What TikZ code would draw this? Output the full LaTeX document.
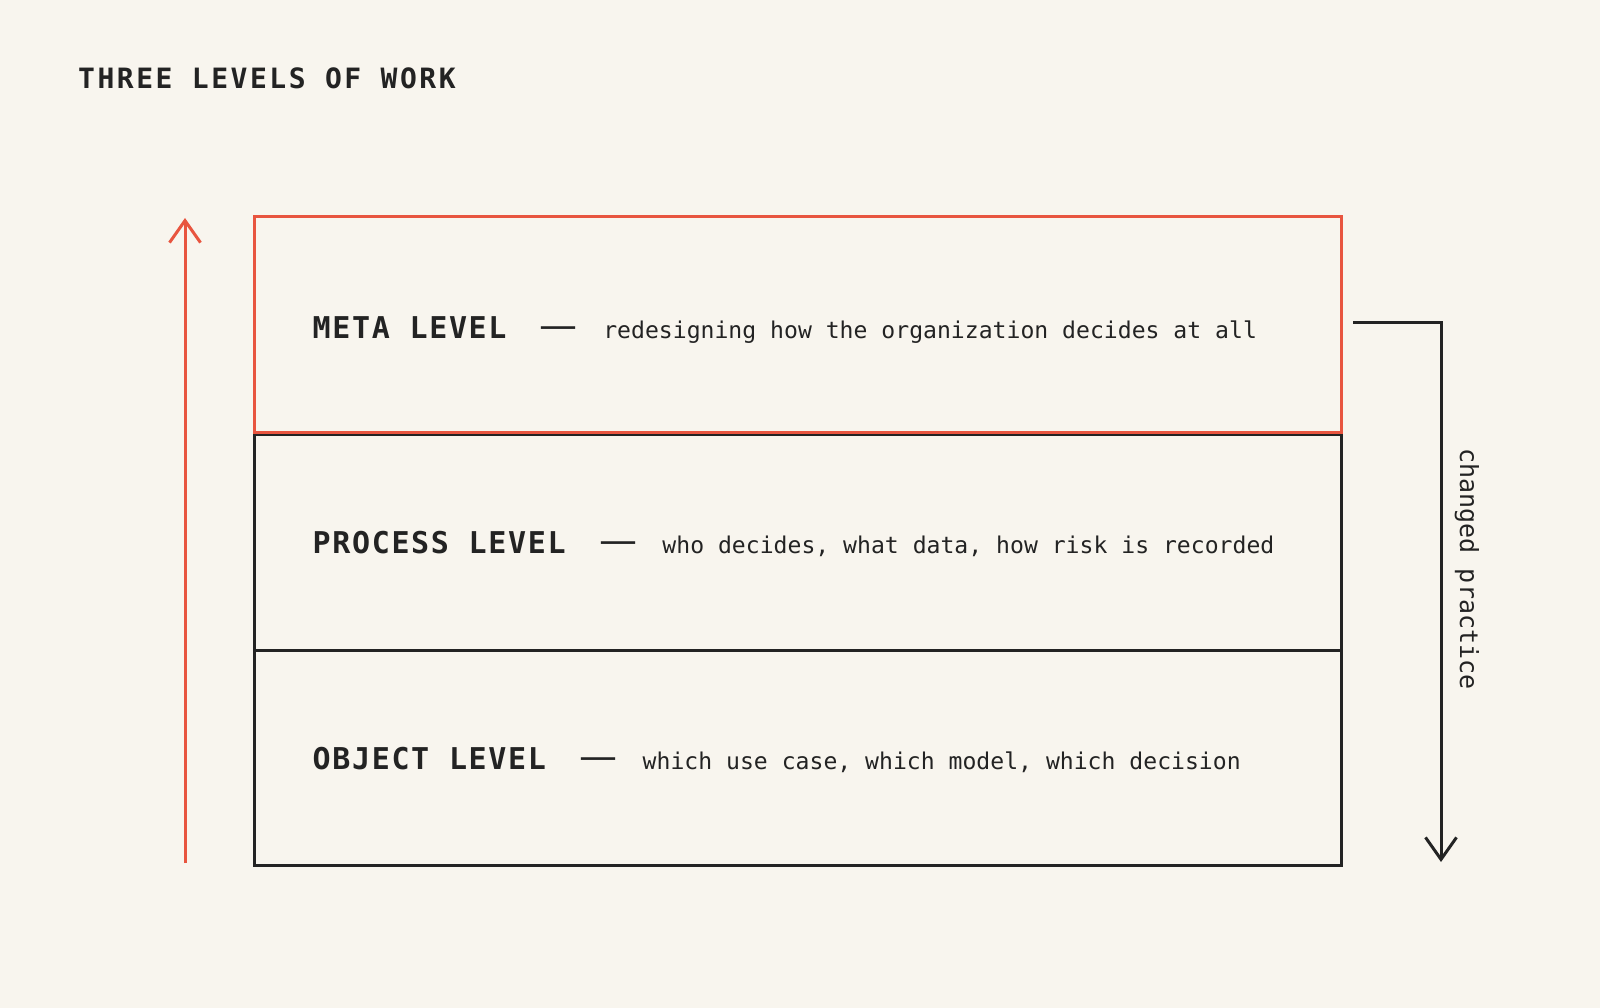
\documentclass[tikz,border=0pt]{standalone}
\usepackage{fontspec}
\usepackage{xcolor}
\usepackage{tikz}
\usetikzlibrary{arrows.meta}
\usetikzlibrary{positioning}
\newfontfamily\titlefont[LetterSpace=9]{DejaVu Sans Mono}
\newfontfamily\levelfont[LetterSpace=5.5]{DejaVu Sans Mono}
\newfontfamily\descfont{DejaVu Sans Mono}
\newfontfamily\dashfont{DejaVu Sans}
\definecolor{paper}{HTML}{F8F5EE}
\definecolor{accent}{HTML}{E8553F}
\definecolor{ink}{HTML}{232323}
\tikzstyle{titletxt}=[inner sep=0pt,text=ink,font={\titlefont\bfseries\fontsize{28}{34}\selectfont}]
\tikzstyle{lvlbox}=[draw=ink,line width=3pt,minimum width=1087pt,inner sep=0pt]
\tikzstyle{lvltxt}=[inner sep=0pt,text=ink,font={\levelfont\bfseries\fontsize{30}{36}\selectfont}]
\tikzstyle{dashtxt}=[inner sep=0pt,text=ink,font={\dashfont\fontsize{38}{42}\selectfont}]
\tikzstyle{desctxt}=[inner sep=0pt,text=ink,font={\descfont\fontsize{23.1}{28}\selectfont}]
\tikzstyle{sidetxt}=[inner sep=0pt,text=ink,font={\descfont\fontsize{25}{30}\selectfont}]
\tikzstyle{barbhead}=[>/.tip={Straight Barb[length=22pt,width=31pt]}]
\tikzstyle{uparrow}=[draw=accent,line width=3pt,barbhead,->]
\tikzstyle{downarrow}=[draw=ink,line width=3pt,barbhead,->]
\begin{document}
\begin{tikzpicture}[x=1pt,y=-1pt]
	\useasboundingbox[fill=paper] (0,0) rectangle (1600,1008);
	\node[titletxt,anchor=base west] (title) at (78,89) {THREE LEVELS OF WORK};
	% boxes, bottom first so the red one sits on top
	\node[lvlbox,minimum height=215pt] (objbox)  at (797.5,757.5) {};
	\node[lvlbox,minimum height=216pt] (procbox) at (797.5,542)   {};
	\node[lvlbox,draw=accent,minimum height=215pt] (metabox) at (797.5,324.5) {};
	% level names, dashes and descriptions
	\node[lvltxt,right=60pt of metabox.west,yshift=-3pt] (meta) {META LEVEL};
	\node[dashtxt,base right=33pt of meta] (metadash) {—};
	\node[desctxt,base right=25pt of metadash] (metadesc) {redesigning how the organization decides at all};
	\node[lvltxt,right=60pt of procbox.west,yshift=-1pt] (proc) {PROCESS LEVEL};
	\node[dashtxt,base right=33pt of proc] (procdash) {—};
	\node[desctxt,base right=25pt of procdash] (procdesc) {who decides, what data, how risk is recorded};
	\node[lvltxt,right=60pt of objbox.west,yshift=-1pt] (obj) {OBJECT LEVEL};
	\node[dashtxt,base right=33pt of obj] (objdash) {—};
	\node[desctxt,base right=25pt of objdash] (objdesc) {which use case, which model, which decision};
	% rising arrow on the left
	\coordinate (risefoot) at (185,863);
	\coordinate (risetop) at (185,218);
	\draw[uparrow] (risefoot) -- (risetop);
	% feedback arrow on the right
	\coordinate (backstart) at (1353,322);
	\coordinate (backend) at (1441,862);
	\draw[downarrow] (backstart) -| (backend);
	\node[sidetxt,rotate=-90] (practice) at (1467,569) {changed practice};
\end{tikzpicture}
\end{document}
